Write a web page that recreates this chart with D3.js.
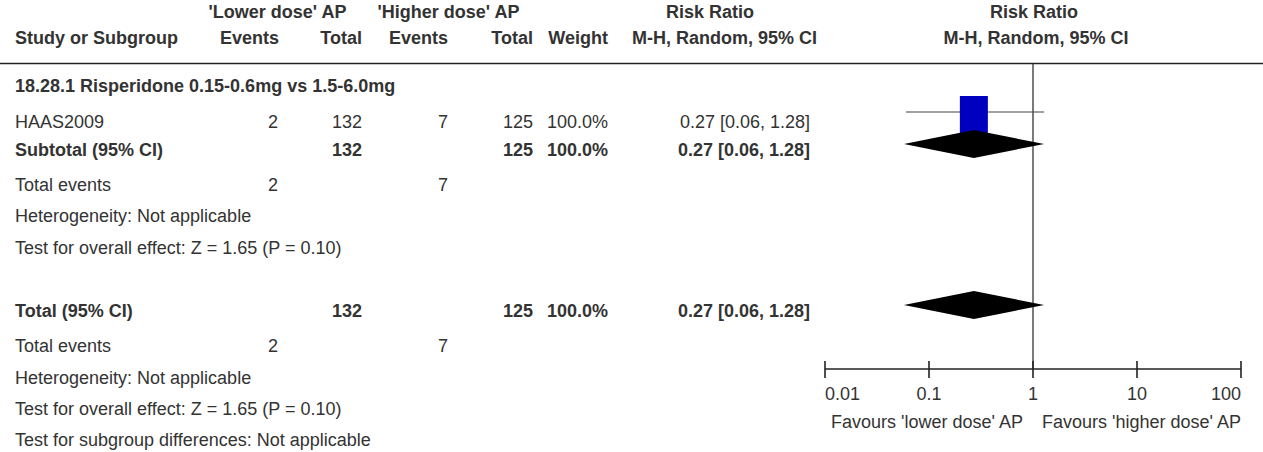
<!DOCTYPE html>
<html><head><meta charset="utf-8">
<script src="https://cdn.jsdelivr.net/npm/d3@7"></script>
<style>
html,body{margin:0;padding:0;background:#fff;}
svg text{font-family:"Liberation Sans",Arial,sans-serif;font-size:18px;fill:#333;}
</style></head><body>
<svg id="chart" width="1263" height="452"></svg>
<script>
// ---- data ----
const studies = ["HAAS2009"];
const lowEvents = [2];
const lowTotal = [132];
const highEvents = [7];
const highTotal = [125];
const weights = ["100.0%"];
const rr = [0.27];
const ciLow = [0.06];
const ciHigh = [1.28];
const subgroupTitle = "18.28.1 Risperidone 0.15-0.6mg vs 1.5-6.0mg";
const subtotal = {rr: 0.27, lo: 0.06, hi: 1.28, lowTotal: 132, highTotal: 125, lowEvents: 2, highEvents: 7, weight: "100.0%"};
const total = {rr: 0.27, lo: 0.06, hi: 1.28, lowTotal: 132, highTotal: 125, lowEvents: 2, highEvents: 7, weight: "100.0%"};
const tickValues = [0.01, 0.1, 1, 10, 100];
const tickLabels = ["0.01", "0.1", "1", "10", "100"];
const favLeft = "Favours 'lower dose' AP";
const favRight = "Favours 'higher dose' AP";

const svg = d3.select("#chart");
const x = d3.scaleLog().domain([0.01, 100]).range([825, 1241]);
const fmt = v => v.toFixed(2);
const ciText = (r, l, h) => `${fmt(r)} [${fmt(l)}, ${fmt(h)}]`;

function txt(s, xp, y, anchor, bold) {
  svg.append("text").attr("x", xp).attr("y", y).attr("text-anchor", anchor || "start")
    .attr("font-weight", bold ? "bold" : "normal").text(s);
}

// columns
const C = {name: 15, lowEv: 278, lowTot: 362, highEv: 448, highTot: 533, weight: 608, ci: 810};
const H1 = 18, H2 = 43.5;

// headers
txt("'Lower dose' AP", 277.5, H1, "middle", true);
txt("'Higher dose' AP", 448.5, H1, "middle", true);
txt("Risk Ratio", 710, H1, "middle", true);
txt("Risk Ratio", 1034, H1, "middle", true);
txt("Study or Subgroup", C.name, H2, "start", true);
txt("Events", 279, H2, "end", true);
txt("Total", 362, H2, "end", true);
txt("Events", 448, H2, "end", true);
txt("Total", 533, H2, "end", true);
txt("Weight", 608, H2, "end", true);
txt("M-H, Random, 95% CI", 724.5, H2, "middle", true);
txt("M-H, Random, 95% CI", 1036, H2, "middle", true);

svg.append("line").attr("x1", 0).attr("x2", 1263).attr("y1", 63.5).attr("y2", 63.5)
  .attr("stroke", "#222").attr("stroke-width", 1.6);

// subgroup
txt(subgroupTitle, C.name, 92, "start", true);

const studyY = [128];
const ciY = [112];
studies.forEach((s, i) => {
  const y = studyY[i];
  txt(s, C.name, y);
  txt(lowEvents[i], C.lowEv, y, "end");
  txt(lowTotal[i], C.lowTot, y, "end");
  txt(highEvents[i], C.highEv, y, "end");
  txt(highTotal[i], C.highTot, y, "end");
  txt(weights[i], C.weight, y, "end");
  txt(ciText(rr[i], ciLow[i], ciHigh[i]), C.ci, y, "end");
});

// subtotal row
txt("Subtotal (95% CI)", C.name, 156, "start", true);
txt(subtotal.lowTotal, C.lowTot, 156, "end", true);
txt(subtotal.highTotal, C.highTot, 156, "end", true);
txt(subtotal.weight, C.weight, 156, "end", true);
txt(ciText(subtotal.rr, subtotal.lo, subtotal.hi), C.ci, 156, "end", true);
txt("Total events", C.name, 191);
txt(subtotal.lowEvents, C.lowEv, 191, "end");
txt(subtotal.highEvents, C.highEv, 191, "end");
txt("Heterogeneity: Not applicable", C.name, 222);
txt("Test for overall effect: Z = 1.65 (P = 0.10)", C.name, 254);

// total row
txt("Total (95% CI)", C.name, 317, "start", true);
txt(total.lowTotal, C.lowTot, 317, "end", true);
txt(total.highTotal, C.highTot, 317, "end", true);
txt(total.weight, C.weight, 317, "end", true);
txt(ciText(total.rr, total.lo, total.hi), C.ci, 317, "end", true);
txt("Total events", C.name, 352);
txt(total.lowEvents, C.lowEv, 352, "end");
txt(total.highEvents, C.highEv, 352, "end");
txt("Heterogeneity: Not applicable", C.name, 384);
txt("Test for overall effect: Z = 1.65 (P = 0.10)", C.name, 415);
txt("Test for subgroup differences: Not applicable", C.name, 446);

// plot: vertical line of no effect
const axisY = 369;
svg.append("line").attr("x1", x(1)).attr("x2", x(1)).attr("y1", 64).attr("y2", axisY)
  .attr("stroke", "#222").attr("stroke-width", 1.2);

// study CI + square
studies.forEach((s, i) => {
  svg.append("line").attr("x1", x(ciLow[i])).attr("x2", x(ciHigh[i]))
    .attr("y1", ciY[i]).attr("y2", ciY[i]).attr("stroke", "#444").attr("stroke-width", 1.2);
  const w = 28;
  svg.append("rect").attr("x", x(rr[i]) - w / 2).attr("y", ciY[i] - 16).attr("width", w).attr("height", 38)
    .attr("fill", "#0000c0");
});

function diamond(d, cy) {
  const h = 14;
  const pts = [[x(d.lo) - 2, cy], [x(d.rr), cy - h], [x(d.hi), cy], [x(d.rr), cy + h]];
  svg.append("path").attr("d", d3.line()(pts) + "Z").attr("fill", "#000");
}
diamond(subtotal, 144);
diamond(total, 305);

// axis
const ax = svg.append("g");
ax.append("line").attr("x1", x(0.01)).attr("x2", x(100)).attr("y1", axisY).attr("y2", axisY)
  .attr("stroke", "#222").attr("stroke-width", 1.6);
ax.selectAll("line.tick").data(tickValues).enter().append("line").attr("class", "tick")
  .attr("x1", d => x(d)).attr("x2", d => x(d)).attr("y1", axisY - 8).attr("y2", axisY + 9)
  .attr("stroke", "#222").attr("stroke-width", 1.6);
ax.selectAll("text.tl").data(tickValues).enter().append("text").attr("class", "tl")
  .attr("x", d => x(d)).attr("y", 400)
  .attr("text-anchor", (d, i) => i === 0 ? "start" : (i === tickValues.length - 1 ? "end" : "middle"))
  .text((d, i) => tickLabels[i]);
txt(favLeft, x(1) - 10, 428, "end");
txt(favRight, x(1) + 9, 428, "start");
</script>
</body></html>
